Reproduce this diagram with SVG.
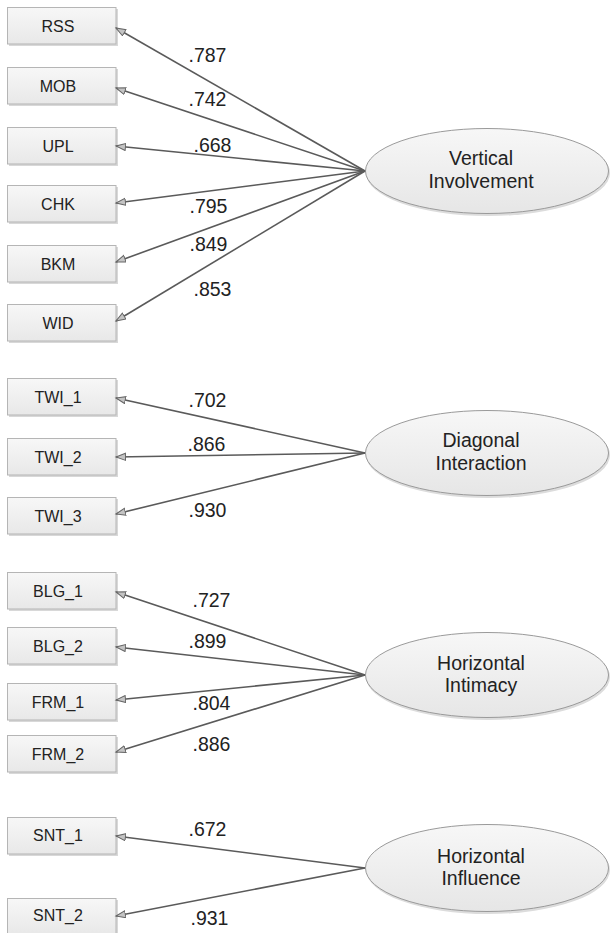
<svg xmlns="http://www.w3.org/2000/svg" width="610" height="933" viewBox="0 0 610 933">
<defs>
  <linearGradient id="gBox" x1="0" y1="0" x2="0" y2="1">
    <stop offset="0" stop-color="#f7f7f7"/>
    <stop offset="1" stop-color="#e8e8e8"/>
  </linearGradient>
  <linearGradient id="gEll" x1="0" y1="0" x2="0" y2="1">
    <stop offset="0" stop-color="#f7f7f7"/>
    <stop offset="1" stop-color="#e6e6e6"/>
  </linearGradient>
  <marker id="arr" markerUnits="userSpaceOnUse" markerWidth="12" markerHeight="9" refX="10" refY="4" orient="auto">
    <path d="M0.5,0.5 L10,4 L0.5,7.5 Z" fill="#c4c4c4" stroke="#666" stroke-width="1"/>
  </marker>
</defs>
<style>
  .box rect.b { fill: url(#gBox); stroke: #b5b5b5; stroke-width: 1; }
  .box rect.s { fill: #d8d8d8; }
  .box text { font-family: "Liberation Sans", Arial, sans-serif; font-size: 16px; fill: #222; text-anchor: middle; }
  .lat ellipse.e { fill: url(#gEll); stroke: #9a9a9a; stroke-width: 1; }
  .lat ellipse.s { fill: #dcdcdc; }
  .lat text { font-family: "Liberation Sans", Arial, sans-serif; font-size: 19.5px; fill: #222; text-anchor: middle; }
  .conn line { stroke: #5a5a5a; stroke-width: 1.6; marker-end: url(#arr); }
  .lbl text { font-family: "Liberation Sans", Arial, sans-serif; font-size: 19.5px; fill: #222; }
</style>

<g id="RSS" class="box"><rect class="s" x="9" y="9" width="109" height="37"/><rect class="b" x="7.5" y="7.5" width="108.5" height="36.5"/><text x="58" y="32">RSS</text></g>
<g id="MOB" class="box"><rect class="s" x="9" y="69" width="109" height="37"/><rect class="b" x="7.5" y="67.5" width="108.5" height="36.5"/><text x="58" y="92">MOB</text></g>
<g id="UPL" class="box"><rect class="s" x="9" y="129" width="109" height="37"/><rect class="b" x="7.5" y="127.5" width="108.5" height="36.5"/><text x="58" y="152">UPL</text></g>
<g id="CHK" class="box"><rect class="s" x="9" y="187" width="109" height="37"/><rect class="b" x="7.5" y="185.5" width="108.5" height="36.5"/><text x="58" y="210">CHK</text></g>
<g id="BKM" class="box"><rect class="s" x="9" y="247" width="109" height="37"/><rect class="b" x="7.5" y="245.5" width="108.5" height="36.5"/><text x="58" y="270">BKM</text></g>
<g id="WID" class="box"><rect class="s" x="9" y="306" width="109" height="37"/><rect class="b" x="7.5" y="304.5" width="108.5" height="36.5"/><text x="58" y="329">WID</text></g>

<g id="TWI_1" class="box"><rect class="s" x="9" y="380" width="109" height="37"/><rect class="b" x="7.5" y="378.5" width="108.5" height="36.5"/><text x="58" y="403">TWI_1</text></g>
<g id="TWI_2" class="box"><rect class="s" x="9" y="440" width="109" height="37"/><rect class="b" x="7.5" y="438.5" width="108.5" height="36.5"/><text x="58" y="463">TWI_2</text></g>
<g id="TWI_3" class="box"><rect class="s" x="9" y="499" width="109" height="37"/><rect class="b" x="7.5" y="497.5" width="108.5" height="36.5"/><text x="58" y="522">TWI_3</text></g>

<g id="BLG_1" class="box"><rect class="s" x="9" y="574" width="109" height="37"/><rect class="b" x="7.5" y="572.5" width="108.5" height="36.5"/><text x="58" y="597">BLG_1</text></g>
<g id="BLG_2" class="box"><rect class="s" x="9" y="629" width="109" height="37"/><rect class="b" x="7.5" y="627.5" width="108.5" height="36.5"/><text x="58" y="652">BLG_2</text></g>
<g id="FRM_1" class="box"><rect class="s" x="9" y="685" width="109" height="37"/><rect class="b" x="7.5" y="683.5" width="108.5" height="36.5"/><text x="58" y="708">FRM_1</text></g>
<g id="FRM_2" class="box"><rect class="s" x="9" y="737" width="109" height="37"/><rect class="b" x="7.5" y="735.5" width="108.5" height="36.5"/><text x="58" y="760">FRM_2</text></g>

<g id="SNT_1" class="box"><rect class="s" x="9" y="819" width="109" height="37"/><rect class="b" x="7.5" y="817.5" width="108.5" height="36.5"/><text x="58" y="841">SNT_1</text></g>
<g id="SNT_2" class="box"><rect class="s" x="9" y="900" width="109" height="37"/><rect class="b" x="7.5" y="898.5" width="108.5" height="36.5"/><text x="58" y="921">SNT_2</text></g>

<g id="VerticalInvolvement" class="lat"><ellipse class="s" cx="488" cy="173" rx="122" ry="43"/><ellipse class="e" cx="487" cy="171" rx="121.5" ry="42.5"/><text x="481" y="165">Vertical</text><text x="481" y="188">Involvement</text></g>
<g id="DiagonalInteraction" class="lat"><ellipse class="s" cx="488" cy="455" rx="122" ry="43"/><ellipse class="e" cx="487" cy="453" rx="121.5" ry="42.5"/><text x="481" y="447">Diagonal</text><text x="481" y="470">Interaction</text></g>
<g id="HorizontalIntimacy" class="lat"><ellipse class="s" cx="488" cy="677" rx="122" ry="43"/><ellipse class="e" cx="487" cy="675" rx="121.5" ry="42.5"/><text x="481" y="670">Horizontal</text><text x="481" y="692">Intimacy</text></g>
<g id="HorizontalInfluence" class="lat"><ellipse class="s" cx="488" cy="870" rx="122" ry="44"/><ellipse class="e" cx="487" cy="868" rx="121.5" ry="43.5"/><text x="481" y="863">Horizontal</text><text x="481" y="885">Influence</text></g>

<g id="connectors" class="conn">
  <line x1="365" y1="171" x2="116" y2="28"/>
  <line x1="365" y1="171" x2="116" y2="88"/>
  <line x1="365" y1="171" x2="116" y2="146"/>
  <line x1="365" y1="171" x2="116" y2="203"/>
  <line x1="365" y1="171" x2="116" y2="262"/>
  <line x1="365" y1="171" x2="116" y2="321"/>
  <line x1="365" y1="453" x2="116" y2="398"/>
  <line x1="365" y1="453" x2="116" y2="457"/>
  <line x1="365" y1="453" x2="116" y2="514"/>
  <line x1="365" y1="675" x2="116" y2="592"/>
  <line x1="365" y1="675" x2="116" y2="647"/>
  <line x1="365" y1="675" x2="116" y2="700"/>
  <line x1="365" y1="675" x2="116" y2="752"/>
  <line x1="365" y1="868" x2="116" y2="836"/>
  <line x1="365" y1="868" x2="116" y2="916"/>
</g>

<g id="labels" class="lbl">
  <text x="188.5" y="62">.787</text>
  <text x="188.5" y="106">.742</text>
  <text x="193.5" y="152">.668</text>
  <text x="189.5" y="213">.795</text>
  <text x="189.5" y="251">.849</text>
  <text x="193.5" y="296">.853</text>
  <text x="188.5" y="407">.702</text>
  <text x="187.5" y="451">.866</text>
  <text x="188.5" y="517">.930</text>
  <text x="192.5" y="607">.727</text>
  <text x="188.5" y="648">.899</text>
  <text x="192.5" y="710">.804</text>
  <text x="192.5" y="751">.886</text>
  <text x="188.5" y="836">.672</text>
  <text x="190.5" y="925">.931</text>
</g>
</svg>
